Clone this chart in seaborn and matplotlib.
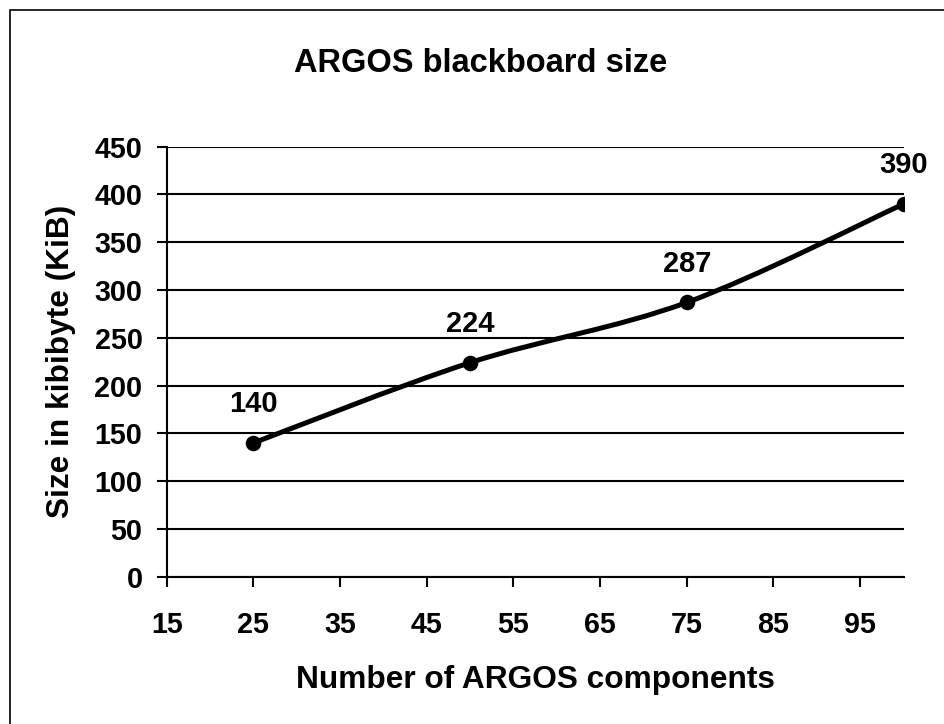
import matplotlib
matplotlib.use("Agg")
import matplotlib.pyplot as plt
from matplotlib.path import Path
from matplotlib.patches import PathPatch, Rectangle
import seaborn as sns
import numpy as np

components = [25, 50, 75, 100]
size_kib = [140, 224, 287, 390]
x_ticks = [15, 25, 35, 45, 55, 65, 75, 85, 95]
y_ticks = [0, 50, 100, 150, 200, 250, 300, 350, 400, 450]

sns.set_style("white")
plt.rcParams["font.family"] = ["Liberation Sans", "DejaVu Sans"]
plt.rcParams["font.weight"] = "bold"
plt.rcParams["text.color"] = "black"
plt.rcParams["axes.labelcolor"] = "black"
plt.rcParams["xtick.color"] = "black"
plt.rcParams["ytick.color"] = "black"

fig = plt.figure(figsize=(9.44, 7.24), dpi=100)
ax = fig.add_axes([166.7 / 944, 1 - 576.7 / 724, (903.5 - 166.7) / 944, 430 / 724])

# smoothed line (Excel-style Catmull-Rom bezier through the data points)
pts = np.column_stack([components, size_kib]).astype(float)
ext = np.vstack([pts[0], pts, pts[-1]])
verts = [tuple(pts[0])]
codes = [Path.MOVETO]
for i in range(len(pts) - 1):
    p_prev, p0, p1, p_next = ext[i], ext[i + 1], ext[i + 2], ext[i + 3]
    c1 = p0 + (p1 - p_prev) / 6.0
    c2 = p1 - (p_next - p0) / 6.0
    verts += [tuple(c1), tuple(c2), tuple(p1)]
    codes += [Path.CURVE4] * 3
ax.add_patch(PathPatch(Path(verts, codes), facecolor="none", edgecolor="black",
                       lw=3.6, capstyle="round", joinstyle="round", zorder=3,
                       transform=ax.transData))

sns.scatterplot(x=components, y=size_kib, ax=ax, color="black", s=125,
                edgecolor="black", linewidth=0, zorder=4)

for xv, yv in zip(components, size_kib):
    ax.annotate(str(yv), (xv, yv), xytext=(0, 22), textcoords="offset points",
                ha="center", va="baseline", fontsize=21, fontweight="bold",
                color="black")

ax.set_xlim(15, 100)
ax.set_ylim(0, 450)
ax.set_xticks(x_ticks)
ax.set_yticks(y_ticks)
ax.set_xticklabels([str(v) for v in x_ticks])
ax.set_yticklabels([str(v) for v in y_ticks])
ax.yaxis.grid(True, color="black", lw=1.5)
ax.xaxis.grid(False)
ax.set_axisbelow(True)
for s in ["top", "right"]:
    ax.spines[s].set_visible(False)
for s in ["left", "bottom"]:
    ax.spines[s].set_color("black")
    ax.spines[s].set_linewidth(1.5)
    ax.spines[s].set_zorder(2.5)
ax.tick_params(axis="both", direction="out", length=7.5, width=1.5, color="black",
               labelcolor="black", labelsize=20.7, left=True, bottom=True)
ax.tick_params(axis="y", pad=10)
ax.tick_params(axis="x", pad=17)
for lab in ax.get_xticklabels() + ax.get_yticklabels():
    lab.set_fontweight("bold")

fig.text(480.5 / 944, 1 - 72 / 724, "ARGOS blackboard size", ha="center", va="baseline",
         fontsize=23.5, fontweight="bold", color="black")
ax.set_xlabel("Number of ARGOS components", fontsize=22.8, fontweight="bold", color="black")
ax.set_ylabel("Size in kibibyte (KiB)", fontsize=22.8, fontweight="bold", color="black")
ax.xaxis.set_label_coords(0.5, -0.2053)
ax.yaxis.label.set_va("baseline")
ax.yaxis.set_label_coords(-0.133, 0.5)

fig.add_artist(Rectangle((9.5 / 944, -0.1), 1.2, 1.1 - 10 / 724, transform=fig.transFigure,
                         facecolor="none", edgecolor="black", lw=1.2, clip_on=False))

fig.savefig("out.png", dpi=100, facecolor="white")
